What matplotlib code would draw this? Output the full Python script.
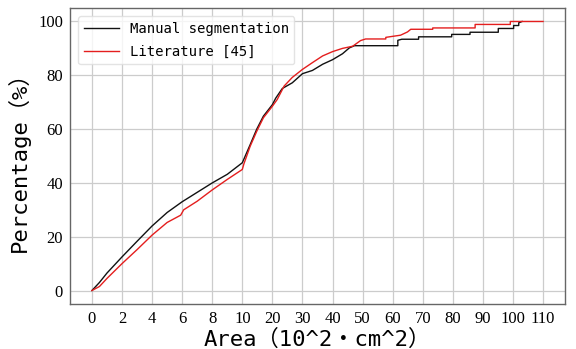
import numpy as np
import matplotlib
matplotlib.use("Agg")
import matplotlib.pyplot as plt

# cumulative area distribution, area in 10^2 cm^2
manual_area = [0, 0.5, 1, 2, 3, 4, 5, 6, 7, 8, 9, 10, 12.6, 14.8, 17, 20, 21.1, 23.3,
               26.6, 30, 33.3, 36.7, 40, 43.3, 45.6, 47.3, 61.7, 61.7, 63, 68.6, 68.6,
               79.6, 79.6, 85.7, 85.7, 95.1, 95.1, 100.2, 100.2, 101.9, 101.9, 103]
manual_pct = [0, 3, 6.5, 12.5, 18.3, 24, 29, 33, 36.5, 40, 43.2, 47.5, 54.2, 60, 64.8, 69.1, 71.5, 75.1,
              77.2, 80.6, 81.8, 84.1, 85.8, 88, 90.2, 91, 91, 93.0, 93.4, 93.4, 94.3,
              94.3, 95.2, 95.2, 96, 96, 97.4, 97.4, 98.5, 98.5, 99.5, 100]

lit_area = [0, 0.5, 1, 2, 3, 4, 5, 5.9, 6.1, 7, 8, 9, 10, 10.5, 12.6, 14.8, 17, 20, 21.6, 23.9,
            26.6, 30, 33.3, 36.7, 40, 43.3, 46.7, 49.3, 51, 57.7, 57.7, 62.6, 64.9, 66,
            73.3, 73.3, 87.4, 87.4, 99.1, 99.1, 110]
lit_pct = [0, 1.5, 4.5, 10, 15.2, 20.6, 25.3, 28, 30, 33.2, 37.4, 41.3, 45, 47, 53.6, 59.2, 64.2, 68.5, 71, 76,
           79.2, 82.2, 84.7, 87.2, 88.8, 90, 90.8, 92.9, 93.5, 93.5, 94.1, 94.9, 96.1, 97.1,
           97.1, 97.6, 97.6, 98.9, 98.9, 100, 100]

xticks = [0, 2, 4, 6, 8, 10, 20, 30, 40, 50, 60, 70, 80, 90, 100, 110]
yticks = [0, 20, 40, 60, 80, 100]


def fwd(x):
    x = np.asarray(x, dtype=float)
    return np.where(x <= 10, x / 2.0, 5 + (x - 10) / 10.0)


def inv(t):
    t = np.asarray(t, dtype=float)
    return np.where(t <= 5, t * 2.0, 10 + (t - 5) * 10.0)


label_font = ['DejaVu Sans Mono', 'Noto Sans CJK SC']

fig = plt.figure(figsize=(5.76, 3.49), dpi=100)
ax = fig.add_axes([0.1215, 0.129, 0.8595, 0.848])
ax.set_xscale('function', functions=(fwd, inv))

ax.plot(manual_area, manual_pct, color='#111111', lw=1.0, label='Manual segmentation')
ax.plot(lit_area, lit_pct, color='#e41e1e', lw=1.0, label='Literature [45]')

ax.set_xlim(inv(-0.73), inv(15.73))
ax.set_ylim(-5, 105)
ax.set_xticks(xticks)
ax.set_xticklabels([str(v) for v in xticks])
ax.set_yticks(yticks)
ax.minorticks_off()
ax.tick_params(length=0, pad=5, labelsize=12)
for lab in ax.get_xticklabels() + ax.get_yticklabels():
    lab.set_family('Liberation Serif')

ax.grid(True, color='#cccccc', lw=0.9)
ax.set_axisbelow(True)
for sp in ax.spines.values():
    sp.set_color('#666666')
    sp.set_linewidth(1.0)

ax.set_xlabel('Area（10^2・cm^2）', family=label_font, fontsize=16, labelpad=1)
ax.set_ylabel('Percentage（%）', family=label_font, fontsize=16, labelpad=6)

leg = ax.legend(loc='upper left', prop={'family': label_font, 'size': 10},
                handlelength=2.5, labelspacing=0.65, borderaxespad=0.6, framealpha=0.8)
leg.get_frame().set_edgecolor('#dddddd')

fig.savefig('out.png', dpi=100)
